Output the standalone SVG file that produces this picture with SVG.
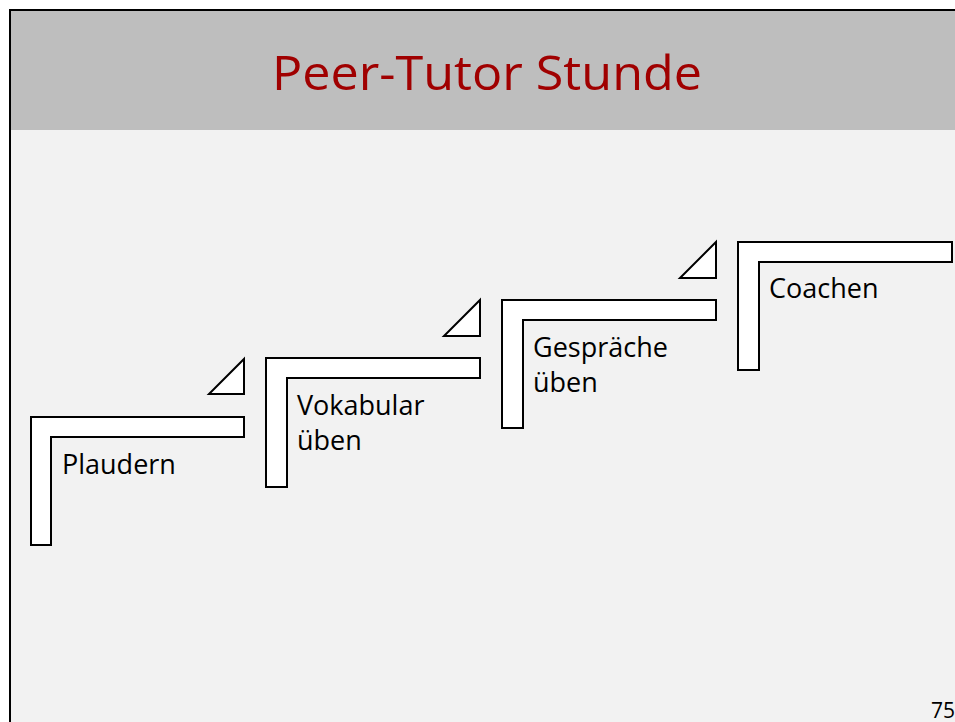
<svg xmlns="http://www.w3.org/2000/svg" width="955" height="722" viewBox="0 0 955 722">
<style>
.step{fill:#fff;stroke:#000;stroke-width:2;stroke-linejoin:miter}
.lbl{font-family:"Open Sans","Liberation Sans",sans-serif;font-size:27px;fill:#000}
</style>
<rect x="0" y="0" width="955" height="722" fill="#fff"/>
<rect x="10" y="10" width="950" height="720" fill="#f2f2f2" stroke="#000" stroke-width="2"/>
<rect x="11" y="11" width="950" height="119" fill="#bebebe"/>
<text x="487" y="90" text-anchor="middle" font-family="Open Sans, Liberation Sans, sans-serif" font-size="47" fill="#a00000" textLength="430" lengthAdjust="spacingAndGlyphs">Peer-Tutor Stunde</text>
<g id="connectors">
<polygon class="step" points="209,394 244,394 244,359"/>
<polygon class="step" points="444,336 480,336 480,300"/>
<polygon class="step" points="680,278 716,278 716,242"/>
</g>
<g id="n1">
<polygon class="step" points="31,417 244,417 244,437 51,437 51,545 31,545"/>
<text class="lbl" x="62" y="474">Plaudern</text>
</g>
<g id="n2">
<polygon class="step" points="266,358 480,358 480,378 287,378 287,487 266,487"/>
<text class="lbl" x="297" y="415">Vokabular</text>
<text class="lbl" x="297" y="450">üben</text>
</g>
<g id="n3">
<polygon class="step" points="502,300 716,300 716,320 523,320 523,428 502,428"/>
<text class="lbl" x="533" y="357">Gespräche</text>
<text class="lbl" x="533" y="392">üben</text>
</g>
<g id="n4">
<polygon class="step" points="738,242 952,242 952,262 759,262 759,370 738,370"/>
<text class="lbl" x="769" y="298">Coachen</text>
</g>
<text x="931" y="718" font-family="Open Sans, Liberation Sans, sans-serif" font-size="21" fill="#000">75</text>
</svg>
